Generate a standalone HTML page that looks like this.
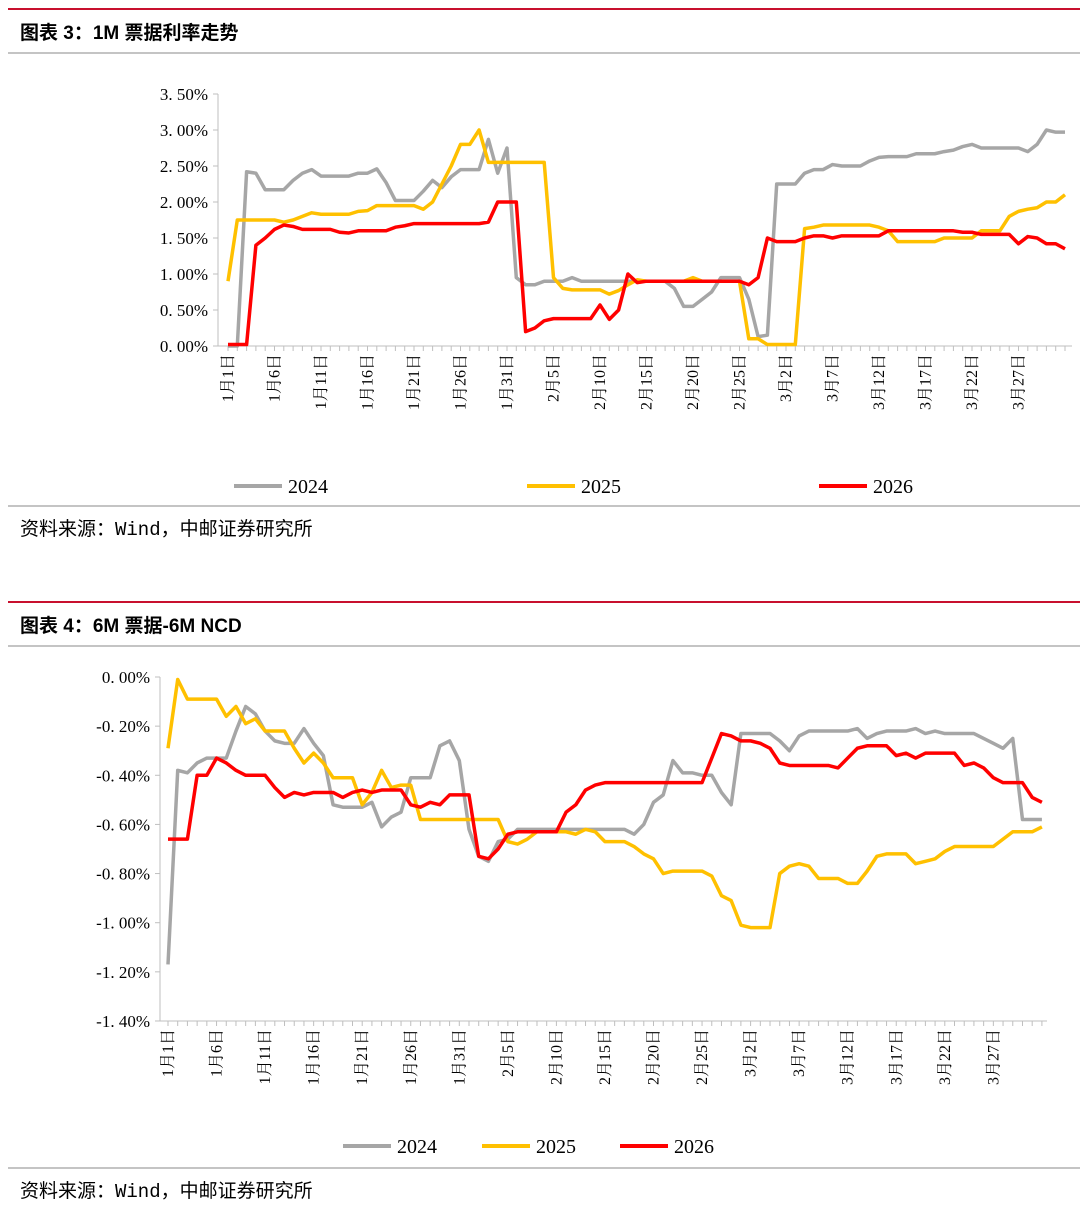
<!DOCTYPE html>
<html><head><meta charset="utf-8">
<style>
body{margin:0;background:#fff;width:1080px;height:1218px;overflow:hidden;font-family:"Liberation Serif","Noto Serif CJK SC",serif}
svg{position:absolute;left:0;top:0}
</style></head>
<body>
<svg id="s" width="1080" height="1218">
<line x1="8" y1="9" x2="1080" y2="9" stroke="#c8102e" stroke-width="2"/>
<text x="20" y="39" font-size="19" font-weight="bold" font-family="Liberation Sans,Noto Sans CJK SC,sans-serif">图表 3：1M 票据利率走势</text>
<line x1="8" y1="53" x2="1080" y2="53" stroke="#888" stroke-width="1"/>
<line x1="8" y1="506" x2="1080" y2="506" stroke="#888" stroke-width="1"/>
<text x="20" y="535" font-size="19" font-family="Liberation Mono,Noto Sans CJK SC,monospace">资料来源：Wind，中邮证券研究所</text>
<line x1="8" y1="602" x2="1080" y2="602" stroke="#c8102e" stroke-width="2"/>
<text x="20" y="632" font-size="19" font-weight="bold" font-family="Liberation Sans,Noto Sans CJK SC,sans-serif">图表 4：6M 票据-6M NCD</text>
<line x1="8" y1="646" x2="1080" y2="646" stroke="#888" stroke-width="1"/>
<line x1="8" y1="1168" x2="1080" y2="1168" stroke="#888" stroke-width="1"/>
<text x="20" y="1197" font-size="19" font-family="Liberation Mono,Noto Sans CJK SC,monospace">资料来源：Wind，中邮证券研究所</text>
</svg>
<script>
const labels=["1月1日","1月6日","1月11日","1月16日","1月21日","1月26日","1月31日","2月5日","2月10日","2月15日","2月20日","2月25日","3月2日","3月7日","3月12日","3月17日","3月22日","3月27日"];
const c1Ticks=[0,0.5,1,1.5,2,2.5,3,3.5];
const c2Ticks=[0,-0.2,-0.4,-0.6,-0.8,-1.0,-1.2,-1.4];
const c1y2024=[0,0,2.42,2.4,2.17,2.17,2.17,2.3,2.4,2.45,2.36,2.36,2.36,2.36,2.4,2.4,2.46,2.27,2.02,2.02,2.02,2.15,2.3,2.2,2.35,2.45,2.45,2.45,2.87,2.4,2.75,0.95,0.85,0.85,0.9,0.9,0.9,0.95,0.9,0.9,0.9,0.9,0.9,0.9,0.9,0.9,0.9,0.9,0.8,0.55,0.55,0.65,0.75,0.95,0.95,0.95,0.65,0.13,0.15,2.25,2.25,2.25,2.4,2.45,2.45,2.52,2.5,2.5,2.5,2.57,2.62,2.63,2.63,2.63,2.67,2.67,2.67,2.7,2.72,2.77,2.8,2.75,2.75,2.75,2.75,2.75,2.7,2.8,3.0,2.97,2.97];
const c1y2025=[0.9,1.75,1.75,1.75,1.75,1.75,1.72,1.75,1.8,1.85,1.83,1.83,1.83,1.83,1.87,1.88,1.95,1.95,1.95,1.95,1.95,1.9,2.0,2.25,2.5,2.8,2.8,3.0,2.55,2.55,2.55,2.55,2.55,2.55,2.55,0.95,0.8,0.78,0.78,0.78,0.78,0.72,0.77,0.85,0.92,0.9,0.9,0.9,0.9,0.9,0.95,0.9,0.9,0.9,0.9,0.9,0.1,0.1,0.02,0.02,0.02,0.02,1.63,1.65,1.68,1.68,1.68,1.68,1.68,1.68,1.65,1.6,1.45,1.45,1.45,1.45,1.45,1.5,1.5,1.5,1.5,1.6,1.6,1.6,1.8,1.87,1.9,1.92,2.0,2.0,2.1];
const c1y2026=[0.02,0.02,0.02,1.4,1.5,1.62,1.68,1.66,1.62,1.62,1.62,1.62,1.58,1.57,1.6,1.6,1.6,1.6,1.65,1.67,1.7,1.7,1.7,1.7,1.7,1.7,1.7,1.7,1.72,2.0,2.0,2.0,0.2,0.25,0.35,0.38,0.38,0.38,0.38,0.38,0.57,0.37,0.5,1.0,0.88,0.9,0.9,0.9,0.9,0.9,0.9,0.9,0.9,0.9,0.9,0.9,0.85,0.95,1.5,1.45,1.45,1.45,1.5,1.53,1.53,1.5,1.53,1.53,1.53,1.53,1.53,1.6,1.6,1.6,1.6,1.6,1.6,1.6,1.6,1.58,1.58,1.55,1.55,1.55,1.55,1.42,1.52,1.5,1.42,1.42,1.35];
const c2y2024=[-1.17,-0.38,-0.39,-0.35,-0.33,-0.33,-0.33,-0.22,-0.12,-0.15,-0.22,-0.26,-0.27,-0.27,-0.21,-0.27,-0.32,-0.52,-0.53,-0.53,-0.53,-0.51,-0.61,-0.57,-0.55,-0.41,-0.41,-0.41,-0.28,-0.26,-0.34,-0.62,-0.73,-0.75,-0.67,-0.66,-0.62,-0.62,-0.62,-0.62,-0.62,-0.62,-0.62,-0.62,-0.62,-0.62,-0.62,-0.62,-0.64,-0.6,-0.51,-0.48,-0.34,-0.39,-0.39,-0.4,-0.4,-0.47,-0.52,-0.23,-0.23,-0.23,-0.23,-0.26,-0.3,-0.24,-0.22,-0.22,-0.22,-0.22,-0.22,-0.21,-0.25,-0.23,-0.22,-0.22,-0.22,-0.21,-0.23,-0.22,-0.23,-0.23,-0.23,-0.23,-0.25,-0.27,-0.29,-0.25,-0.58,-0.58,-0.58];
const c2y2025=[-0.29,-0.01,-0.09,-0.09,-0.09,-0.09,-0.16,-0.12,-0.19,-0.17,-0.22,-0.22,-0.22,-0.29,-0.35,-0.31,-0.35,-0.41,-0.41,-0.41,-0.52,-0.47,-0.38,-0.45,-0.44,-0.44,-0.58,-0.58,-0.58,-0.58,-0.58,-0.58,-0.58,-0.58,-0.58,-0.67,-0.68,-0.66,-0.63,-0.63,-0.63,-0.63,-0.64,-0.62,-0.63,-0.67,-0.67,-0.67,-0.69,-0.72,-0.74,-0.8,-0.79,-0.79,-0.79,-0.79,-0.81,-0.89,-0.91,-1.01,-1.02,-1.02,-1.02,-0.8,-0.77,-0.76,-0.77,-0.82,-0.82,-0.82,-0.84,-0.84,-0.79,-0.73,-0.72,-0.72,-0.72,-0.76,-0.75,-0.74,-0.71,-0.69,-0.69,-0.69,-0.69,-0.69,-0.66,-0.63,-0.63,-0.63,-0.61];
const c2y2026=[-0.66,-0.66,-0.66,-0.4,-0.4,-0.33,-0.35,-0.38,-0.4,-0.4,-0.4,-0.45,-0.49,-0.47,-0.48,-0.47,-0.47,-0.47,-0.49,-0.47,-0.46,-0.47,-0.46,-0.46,-0.46,-0.52,-0.53,-0.51,-0.52,-0.48,-0.48,-0.48,-0.73,-0.74,-0.7,-0.64,-0.63,-0.63,-0.63,-0.63,-0.63,-0.55,-0.52,-0.46,-0.44,-0.43,-0.43,-0.43,-0.43,-0.43,-0.43,-0.43,-0.43,-0.43,-0.43,-0.43,-0.33,-0.23,-0.24,-0.26,-0.26,-0.27,-0.29,-0.35,-0.36,-0.36,-0.36,-0.36,-0.36,-0.37,-0.33,-0.29,-0.28,-0.28,-0.28,-0.32,-0.31,-0.33,-0.31,-0.31,-0.31,-0.31,-0.36,-0.35,-0.37,-0.41,-0.43,-0.43,-0.43,-0.49,-0.51];
const series1=[[c1y2024,"#a6a6a6","2024"],[c1y2025,"#ffc000","2025"],[c1y2026,"#ff0000","2026"]];
const series2=[[c2y2024,"#a6a6a6","2024"],[c2y2025,"#ffc000","2025"],[c2y2026,"#ff0000","2026"]];
const NS="http://www.w3.org/2000/svg",svg=document.getElementById('s');
function mk(t,a,p){const e=document.createElementNS(NS,t);for(const k in a)e.setAttribute(k,a[k]);(p||svg).appendChild(e);return e;}
function chart(o){
  const g=mk('g',{});
  
  
  const X=d=>o.x0+d*o.dx, Y=v=>o.yBase+(v-o.vBase)*o.ky;
  const ax=mk('line',{x1:o.axX,y1:Y(o.vMin),x2:o.axX,y2:Y(o.vMax),stroke:'#bfbfbf'},g);
  
  
  o.ticks.forEach(v=>{
    mk('line',{x1:o.axX-5,x2:o.axX,y1:Y(v),y2:Y(v),stroke:'#bfbfbf'},g);
    const t=mk('text',{x:o.axX-10,y:Y(v)+6,'text-anchor':'end','font-size':17},g);
    t.textContent=(v<0?'-':'')+Math.abs(v).toFixed(2).replace('.','. ')+'%';
    
    
  });
  const xl=mk('line',{x1:o.axX,x2:o.xEnd,y1:o.xAxisY,y2:o.xAxisY,stroke:'#bfbfbf'},g);
  
  
  for(let d=0;d<=90;d++)mk('line',{x1:X(d),x2:X(d),y1:o.xAxisY,y2:o.xAxisY+5,stroke:'#bfbfbf'},g);
  labels.forEach((l,i)=>{
    const x=X(i*5)+5,y=o.xAxisY+8;
    const t=mk('text',{x:x,y:y,'text-anchor':'end','font-size':16,transform:`rotate(-90 ${x} ${y})`,'font-family':'Liberation Serif,Noto Serif CJK SC,serif'},g);
    t.textContent=l;
    
    
  });
  o.series.forEach((s,k)=>{
    const p=mk('polyline',{points:s[0].slice(0,91).map((v,d)=>X(d)+','+Y(v)).join(' '),fill:'none',stroke:s[1],'stroke-width':3.5,'stroke-linejoin':'round'},g);
    
    
    const lx=o.legX[k];
    const ll=mk('line',{x1:lx,x2:lx+48,y1:o.legY,y2:o.legY,stroke:s[1],'stroke-width':4},g);
    
    
    const lt=mk('text',{x:lx+54,y:o.legY+7,'font-size':20},g);
    lt.textContent=s[2];
    
    
  });
}
chart({name:'chart-1m-bill-rate',x0:228,dx:9.3,axX:218,xEnd:1072,yBase:346,vBase:0,ky:-72,vMin:0,vMax:3.5,ticks:c1Ticks,xAxisY:346,series:series1,legX:[234,527,819],legY:486});
chart({name:'chart-6m-bill-ncd-spread',x0:168,dx:9.71,axX:160,xEnd:1047,yBase:677,vBase:0,ky:-245.7,vMin:-1.4,vMax:0,ticks:c2Ticks,xAxisY:1021,series:series2,legX:[343,482,620],legY:1146});
</script>
</body></html>
